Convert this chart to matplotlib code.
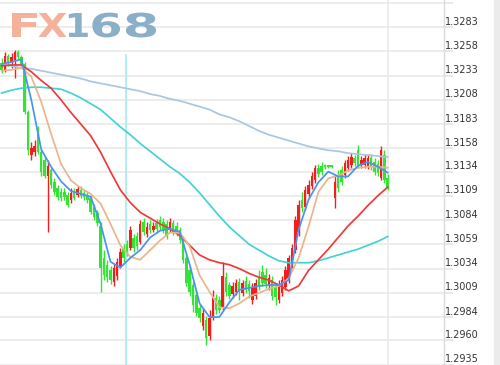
import numpy as np
import matplotlib
matplotlib.use('Agg')
import matplotlib.pyplot as plt
from matplotlib.patches import Rectangle
from matplotlib.transforms import ScaledTranslation, Affine2D
from matplotlib.patheffects import AbstractPathEffect

# ---------------- data ----------------
opens = [1.3246, 1.3239, 1.3253, 1.3247, 1.3249, 1.3257, 1.3252, 1.3245, 1.3195, 1.3151,
         1.3154, 1.3177, 1.3154, 1.3146, 1.3129, 1.3136, 1.3123, 1.3117, 1.3113, 1.3113,
         1.3110, 1.3105, 1.3113, 1.3110, 1.3115, 1.3112, 1.3110, 1.3107, 1.3097, 1.3091,
         1.3078, 1.3045, 1.3038, 1.3032, 1.3020, 1.3026, 1.3037, 1.3055, 1.3059, 1.3055,
         1.3066, 1.3068, 1.3061, 1.3082, 1.3070, 1.3080, 1.3074, 1.3081, 1.3084, 1.3082,
         1.3080, 1.3075, 1.3081, 1.3078, 1.3074, 1.3063, 1.3045, 1.3032, 1.3017, 1.3007,
         1.2993, 1.2975, 1.2981, 1.2964, 1.2983, 1.3004, 1.3002, 1.2993, 1.3025, 1.3017,
         1.3008, 1.3010, 1.3020, 1.3009, 1.3021, 1.3018, 1.3002, 1.3006, 1.3024, 1.3030,
         1.3027, 1.3017, 1.3022, 1.3015, 1.3002, 1.3009, 1.3015, 1.3022, 1.3038, 1.3053,
         1.3072, 1.3105, 1.3097, 1.3111, 1.3119, 1.3125, 1.3138, 1.3140, 1.3140, 1.3140,
         1.3140, 1.3107, 1.3130, 1.3136, 1.3130, 1.3138, 1.3141, 1.3148, 1.3156, 1.3141,
         1.3141, 1.3140, 1.3148, 1.3144, 1.3142, 1.3127, 1.3151, 1.3127]
closes = [1.3239, 1.3253, 1.3247, 1.3252, 1.3257, 1.3252, 1.3245, 1.3195, 1.3156, 1.3158,
          1.3160, 1.3154, 1.3134, 1.3129, 1.3140, 1.3120, 1.3113, 1.3108, 1.3107, 1.3108,
          1.3100, 1.3112, 1.3107, 1.3116, 1.3109, 1.3108, 1.3105, 1.3092, 1.3087, 1.3081,
          1.3035, 1.3027, 1.3025, 1.3022, 1.3035, 1.3041, 1.3051, 1.3045, 1.3051, 1.3074,
          1.3055, 1.3057, 1.3080, 1.3072, 1.3077, 1.3074, 1.3078, 1.3075, 1.3077, 1.3074,
          1.3068, 1.3082, 1.3072, 1.3071, 1.3063, 1.3043, 1.3019, 1.3010, 1.2996, 1.2988,
          1.2983, 1.2988, 1.2962, 1.2983, 1.3005, 1.2991, 1.2991, 1.3026, 1.3010, 1.3006,
          1.3016, 1.3019, 1.3012, 1.3019, 1.3012, 1.3011, 1.3015, 1.3019, 1.3015, 1.3019,
          1.3018, 1.3024, 1.3006, 1.3005, 1.3018, 1.3022, 1.3032, 1.3045, 1.3055, 1.3084,
          1.3100, 1.3096, 1.3115, 1.3120, 1.3129, 1.3138, 1.3132, 1.3134, 1.3139, 1.3139,
          1.3139, 1.3123, 1.3117, 1.3123, 1.3143, 1.3146, 1.3149, 1.3143, 1.3141, 1.3146,
          1.3148, 1.3148, 1.3139, 1.3134, 1.3133, 1.3156, 1.3125, 1.3117]
highs = [1.3251, 1.3257, 1.3255, 1.3256, 1.3259, 1.3259, 1.3254, 1.3247, 1.3198, 1.3165,
         1.3167, 1.3181, 1.3156, 1.3150, 1.3146, 1.3138, 1.3127, 1.3120, 1.3117, 1.3117,
         1.3113, 1.3117, 1.3117, 1.3119, 1.3119, 1.3115, 1.3113, 1.3110, 1.3101, 1.3094,
         1.3082, 1.3053, 1.3043, 1.3037, 1.3039, 1.3045, 1.3055, 1.3059, 1.3063, 1.3078,
         1.3070, 1.3072, 1.3084, 1.3086, 1.3082, 1.3084, 1.3082, 1.3085, 1.3088, 1.3086,
         1.3084, 1.3086, 1.3084, 1.3082, 1.3077, 1.3068, 1.3049, 1.3037, 1.3020, 1.3012,
         1.2997, 1.2993, 1.2985, 1.2991, 1.3012, 1.3008, 1.3006, 1.3041, 1.3030, 1.3020,
         1.3020, 1.3023, 1.3024, 1.3022, 1.3026, 1.3022, 1.3019, 1.3023, 1.3032, 1.3038,
         1.3035, 1.3028, 1.3026, 1.3019, 1.3022, 1.3026, 1.3037, 1.3048, 1.3059, 1.3088,
         1.3105, 1.3113, 1.3119, 1.3125, 1.3134, 1.3141, 1.3142, 1.3144, 1.3142, 1.3141,
         1.3141, 1.3130, 1.3136, 1.3140, 1.3146, 1.3150, 1.3153, 1.3151, 1.3161, 1.3150,
         1.3152, 1.3152, 1.3152, 1.3148, 1.3146, 1.3160, 1.3156, 1.3132]
lows = [1.3236, 1.3237, 1.3243, 1.3241, 1.3231, 1.3249, 1.3243, 1.3193, 1.3151, 1.3146,
        1.3150, 1.3152, 1.3129, 1.3127, 1.3072, 1.3117, 1.3110, 1.3105, 1.3104, 1.3105,
        1.3097, 1.3102, 1.3105, 1.3108, 1.3107, 1.3105, 1.3102, 1.3090, 1.3084, 1.3078,
        1.3010, 1.3022, 1.3020, 1.3018, 1.3016, 1.3022, 1.3035, 1.3041, 1.3047, 1.3053,
        1.3051, 1.3053, 1.3059, 1.3069, 1.3067, 1.3071, 1.3072, 1.3071, 1.3074, 1.3071,
        1.3064, 1.3072, 1.3069, 1.3068, 1.3060, 1.3040, 1.3016, 1.3006, 1.2989, 1.2985,
        1.2979, 1.2971, 1.2955, 1.2960, 1.2981, 1.2987, 1.2988, 1.2991, 1.3006, 1.3003,
        1.3004, 1.3007, 1.3002, 1.3006, 1.3009, 1.3004, 1.2997, 1.3003, 1.3012, 1.3016,
        1.3014, 1.3012, 1.3002, 1.2996, 1.2998, 1.3006, 1.3012, 1.3019, 1.3035, 1.3050,
        1.3068, 1.3092, 1.3094, 1.3107, 1.3116, 1.3122, 1.3128, 1.3130, 1.3137, 1.3138,
        1.3138, 1.3096, 1.3113, 1.3120, 1.3127, 1.3135, 1.3138, 1.3140, 1.3138, 1.3138,
        1.3138, 1.3137, 1.3136, 1.3130, 1.3129, 1.3125, 1.3122, 1.3115]

# moving-average lines sampled every 3rd bar
ma_idx = list(range(0, 118, 3))
ma_blue = [1.3245, 1.3247, 1.3250, 1.3208, 1.3157, 1.3139, 1.3124, 1.3114, 1.3111, 1.3108,
           1.3080, 1.3041, 1.3035, 1.3045, 1.3053, 1.3066, 1.3073, 1.3075, 1.3072, 1.3038,
           1.2998, 1.2984, 1.2984, 1.2999, 1.3012, 1.3014, 1.3016, 1.3017, 1.3017, 1.3022,
           1.3074, 1.3105, 1.3123, 1.3134, 1.3129, 1.3129, 1.3140, 1.3144, 1.3139, 1.3133]
ma_tan = [1.3238, 1.3239, 1.3241, 1.3232, 1.3206, 1.3173, 1.3142, 1.3125, 1.3117, 1.3111,
          1.3101, 1.3080, 1.3058, 1.3046, 1.3043, 1.3053, 1.3063, 1.3071, 1.3071, 1.3057,
          1.3027, 1.3010, 1.2994, 1.2993, 1.2998, 1.3005, 1.3009, 1.3013, 1.3016, 1.3024,
          1.3045, 1.3077, 1.3113, 1.3127, 1.3130, 1.3135, 1.3138, 1.3139, 1.3139, 1.3138]
ma_red = [1.3243, 1.3244, 1.3244, 1.3237, 1.3228, 1.3220, 1.3208, 1.3195, 1.3183, 1.3171,
          1.3154, 1.3134, 1.3115, 1.3102, 1.3092, 1.3086, 1.3080, 1.3075, 1.3068, 1.3058,
          1.3048, 1.3043, 1.3040, 1.3038, 1.3034, 1.3029, 1.3025, 1.3022, 1.3017, 1.3011,
          1.3016, 1.3032, 1.3043, 1.3054, 1.3066, 1.3078, 1.3088, 1.3099, 1.3109, 1.3118]
ma_cyan = [1.3215, 1.3218, 1.3220, 1.3221, 1.3221, 1.3220, 1.3219, 1.3215, 1.3210, 1.3204,
           1.3198, 1.3189, 1.3180, 1.3172, 1.3163, 1.3155, 1.3147, 1.3139, 1.3132, 1.3123,
           1.3112, 1.3100, 1.3088, 1.3077, 1.3068, 1.3059, 1.3053, 1.3047, 1.3042, 1.3040,
           1.3040, 1.3040, 1.3042, 1.3045, 1.3048, 1.3051, 1.3054, 1.3058, 1.3062, 1.3067]
ma_grey = [1.3245, 1.3243, 1.3241, 1.3240, 1.3238, 1.3236, 1.3234, 1.3232, 1.3230, 1.3227,
           1.3225, 1.3223, 1.3221, 1.3219, 1.3217, 1.3214, 1.3212, 1.3209, 1.3207, 1.3204,
           1.3201, 1.3198, 1.3193, 1.3190, 1.3186, 1.3181, 1.3176, 1.3172, 1.3169, 1.3166,
           1.3163, 1.3160, 1.3158, 1.3156, 1.3155, 1.3153, 1.3152, 1.3151, 1.3150, 1.3149]

tick_values = [1.3283, 1.3258, 1.3233, 1.3208, 1.3183, 1.3158, 1.3134, 1.3109,
               1.3084, 1.3059, 1.3034, 1.3009, 1.2984, 1.2960, 1.2935]
tick_labels = ['1.3283', '1.3258', '1.3233', '1.3208', '1.3183', '1.3158', '1.3134', '1.3109',
               '1.3084', '1.3059', '1.3034', '1.3009', '1.2984', '1.2960', '1.2935']
top_tick = [1.3308]


class HStretch(AbstractPathEffect):
    """Widen glyphs horizontally about a display-x centre."""
    def __init__(self, sx, cx):
        super().__init__()
        self.sx = sx
        self.cx = cx

    def draw_path(self, renderer, gc, tpath, affine, rgbFace=None):
        t = affine + Affine2D().translate(-self.cx, 0).scale(self.sx, 1).translate(self.cx, 0)
        renderer.draw_path(gc, tpath, t, rgbFace)


# ---------------- figure ----------------
fig = plt.figure(figsize=(5, 3.65), dpi=100)
ax = fig.add_axes([0, 0, 444 / 500, 1])
ax.set_xlim(-0.485, 134.06)
ax.set_ylim(1.29345, 1.3311)

o = np.array(opens); c = np.array(closes)
h = np.array(highs); l = np.array(lows)
x = np.arange(len(o))
up = c > o
col = np.where(up, '#f51c1c', '#33e533')

ax.vlines(x, l, h, colors=col, lw=1.0, zorder=3)
ax.bar(x, np.maximum(np.abs(c - o), 0.00013), bottom=np.minimum(o, c),
       width=0.75, color=col, linewidth=0, zorder=4)

ax.plot(ma_idx, ma_grey, color='#a9c7e0', lw=1.25, zorder=5)
ax.plot(ma_idx, ma_cyan, color='#45d2d4', lw=1.25, zorder=5)
ax.plot(ma_idx, ma_red, color='#f03a3a', lw=1.25, zorder=5)
ax.plot(ma_idx, ma_tan, color='#ebb48c', lw=1.25, zorder=5)
ax.plot(ma_idx, ma_blue, color='#4a93f0', lw=1.25, zorder=6)

# grid / axes
for s in ['top', 'left', 'bottom']:
    ax.spines[s].set_visible(False)
ax.spines['right'].set_color('#d9d9d9')
ax.spines['right'].set_linewidth(1.0)
ax.yaxis.tick_right()
ax.set_yticks(tick_values + top_tick)
ax.tick_params(axis='y', length=6.5, width=1.1, color='#e2e2e2',
               labelright=False, labelleft=False)
ax.tick_params(axis='x', bottom=False, labelbottom=False)
ax.grid(axis='y', color='#e8e8e8', lw=1.1, zorder=0)
ax.axvline(117, color='#e8e8e8', lw=1.1, zorder=0)
ax.axvline(37.7, ymax=0.85, color='#a6ecec', lw=1.2, zorder=1)
ax.set_axisbelow(True)

off = ScaledTranslation(0, 2.5 / 100, fig.dpi_scale_trans)
for v, lab in zip(tick_values, tick_labels):
    ax.text(1.003, v, lab, transform=ax.get_yaxis_transform() + off,
            fontsize=7, va='baseline', ha='left', color='#333333', clip_on=False)

fig.add_artist(Rectangle((494 / 500, 0), 6 / 500, 1, transform=fig.transFigure,
                         color='#ebebeb', zorder=-1))

# logo
logo_chars = ['F', 'X', '1', '6', '8']
logo_x = [24.5, 52.5, 77.5, 106, 141]
logo_sx = [1.5, 1.16, 1.12, 1.45, 1.6]
logo_cols = ['#f4b29b', '#f4b29b', '#8cafc8', '#8cafc8', '#8cafc8']
for ch, lx, sx, lc in zip(logo_chars, logo_x, logo_sx, logo_cols):
    fig.text(lx / 500, 1 - 37 / 365, ch, fontsize=23.7, fontweight='bold',
             color=lc, ha='center', va='baseline', family='DejaVu Sans',
             path_effects=[HStretch(sx, lx)])

fig.savefig('out.png', dpi=100)
